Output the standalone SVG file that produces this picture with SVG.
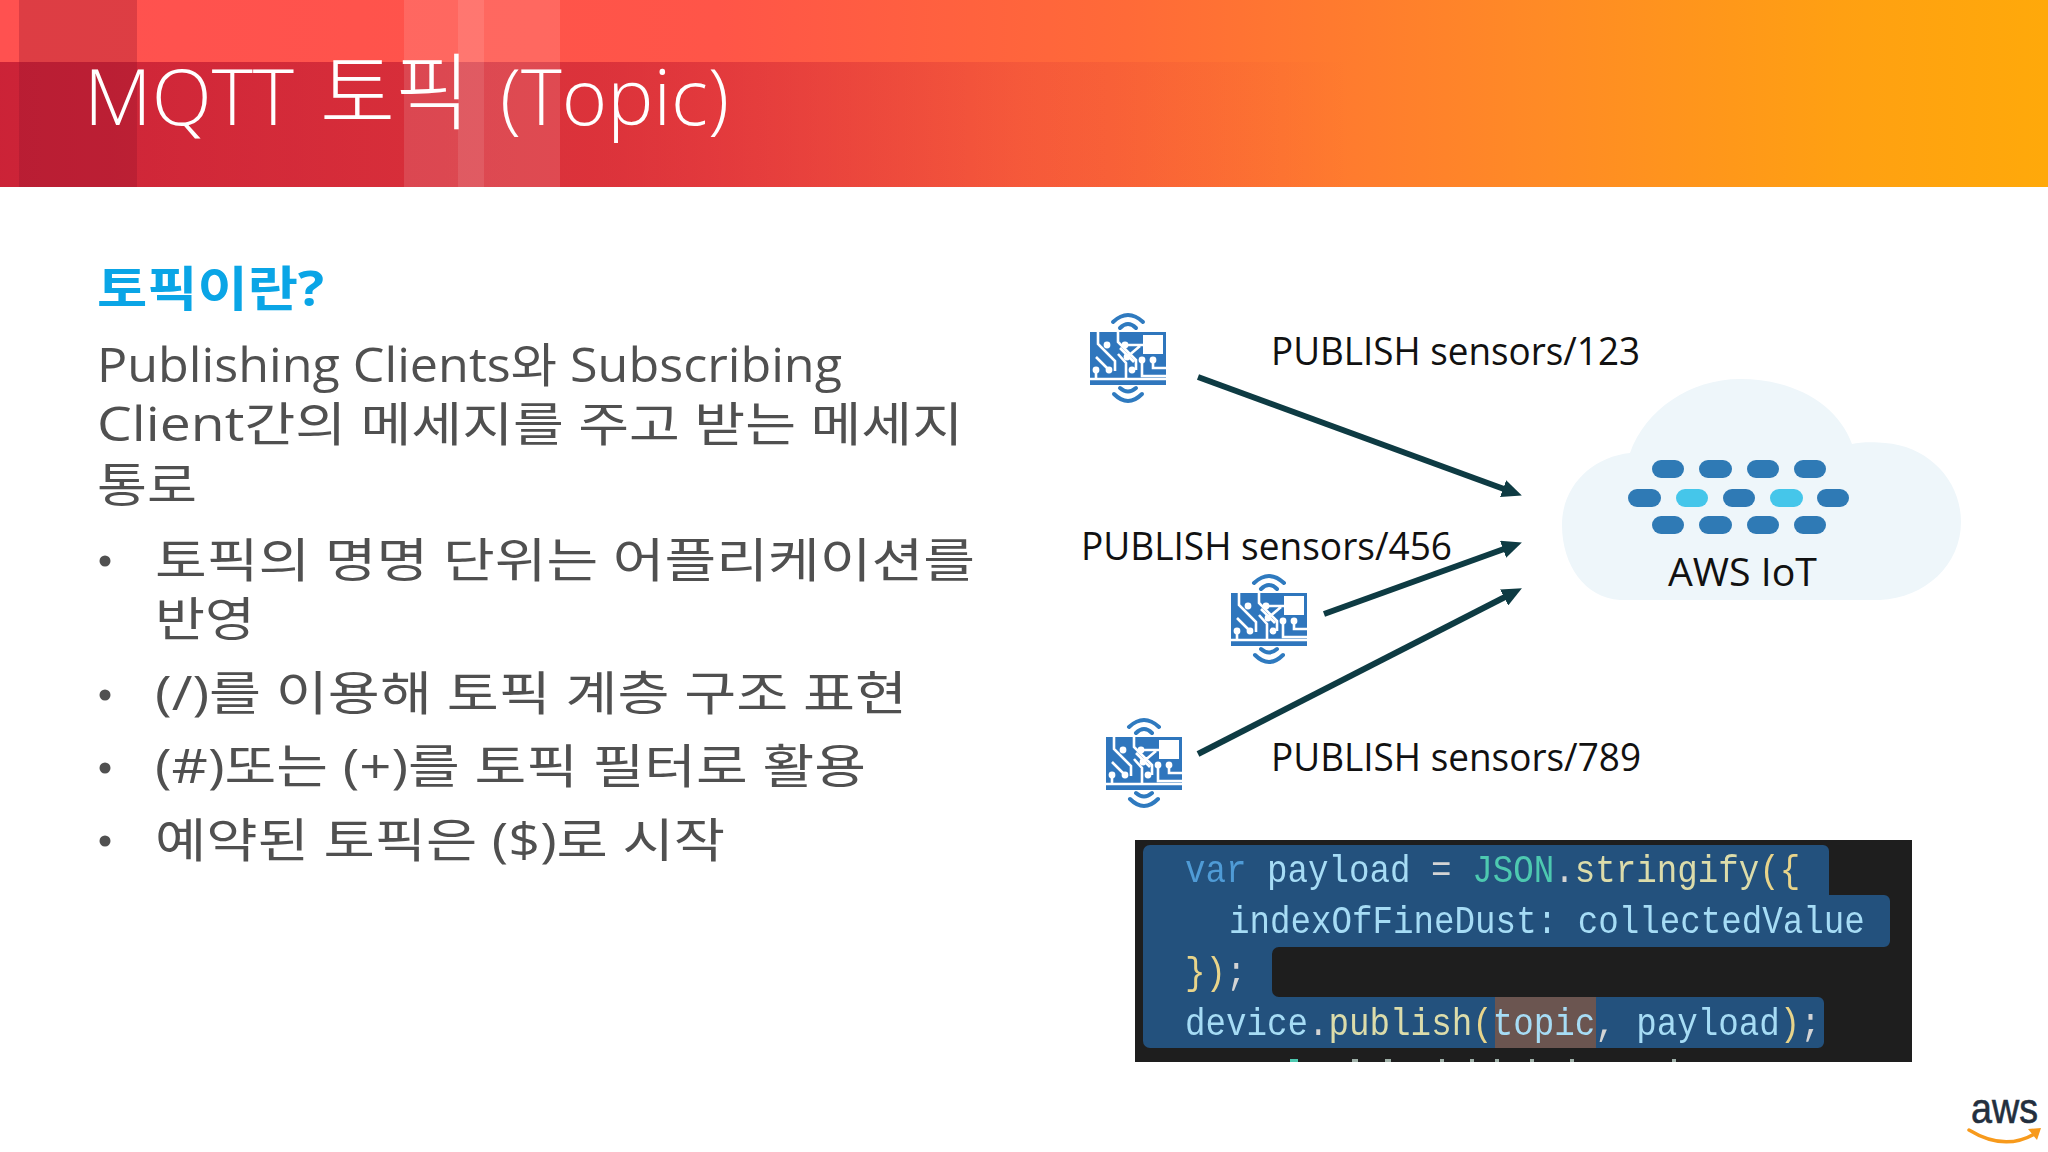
<svg xmlns="http://www.w3.org/2000/svg" xmlns:xlink="http://www.w3.org/1999/xlink" width="2048" height="1152" viewBox="0 0 2048 1152">
<defs>
<linearGradient id="hdr" x1="0" x2="1" y1="0" y2="0">
<stop offset="0" stop-color="#ff5150"/><stop offset=".35" stop-color="#ff5548"/><stop offset=".55" stop-color="#ff6a38"/><stop offset=".75" stop-color="#ff8a26"/><stop offset=".9" stop-color="#ffa012"/><stop offset="1" stop-color="#ffa90a"/>
</linearGradient>
<linearGradient id="band" x1="0" x2="1" y1="0" y2="0">
<stop offset="0" stop-color="#b00a2a" stop-opacity=".65"/><stop offset=".3" stop-color="#c0182f" stop-opacity=".55"/><stop offset=".5" stop-color="#c0182f" stop-opacity=".15"/><stop offset=".66" stop-color="#c0182f" stop-opacity="0"/>
</linearGradient>
<filter id="soft" x="-2%" y="-2%" width="104%" height="104%"><feGaussianBlur stdDeviation=".6"/></filter>
<marker id="arrow" viewBox="0 0 10 10" refX="0.5" refY="5" markerWidth="20" markerHeight="18" markerUnits="userSpaceOnUse" orient="auto" preserveAspectRatio="none"><path d="M0,0L10,5L0,10Z" fill="#0e3b43"/></marker>
<g id="chip">
<path d="M23,-10Q38,-24 53,-10M30,-4Q38,-12 46,-4M24,62Q38,76 52,62M30,56Q38,63 46,56" fill="none" stroke="#2f7abf" stroke-width="4" stroke-linecap="round"/>
<rect x="0" y="0" width="76" height="53" fill="#2f76bd"/>
<path d="M8,0V12L25,29V39M19,38L6,25M6,38V47M28,0V10L46,28V38M30,16L44,30M28,22L36,31V46M35,13H53M52,28V44H76M63,28V36H76M37,25L50,14M0,47H76" fill="none" stroke="#fff" stroke-width="2.6"/>
<rect x="53" y="3" width="20" height="19" fill="#fff"/>
<g fill="#fff"><circle cx="17" cy="13" r="3.4"/><circle cx="35" cy="13" r="3.4"/><circle cx="6" cy="38" r="3.4"/><circle cx="19" cy="38" r="3.4"/><circle cx="37" cy="25" r="3.4"/><circle cx="42" cy="38" r="3.4"/><circle cx="52" cy="28" r="3.4"/><circle cx="63" cy="28" r="3.4"/></g>
</g>
</defs>
<style>
.ui{font-family:"Open Sans","Noto Sans CJK KR",sans-serif;font-weight:300}
.body{font-size:47px;fill:#505050;font-weight:400}
.lbl{font-size:38px;fill:#111;font-weight:400}
.code{font-family:"Liberation Mono",monospace;font-size:38px}
.pill{fill:#2f7ab5}
.pl{fill:#45c6ea}
.sel{fill:#23517d}
.conn{fill:none;stroke:#0e3b43;stroke-width:6;marker-end:url(#arrow)}
</style>
<rect width="2048" height="1152" fill="#fff"/>
<g id="header">
<rect width="2048" height="187" fill="url(#hdr)"/>
<rect y="62" width="2048" height="125" fill="url(#band)"/>
<rect x="19" width="118" height="187" fill="#90102a" fill-opacity=".3"/>
<rect x="404" width="156" height="187" fill="#fff" fill-opacity=".12"/>
<rect x="458" width="26" height="187" fill="#fff" fill-opacity=".1"/>
<g class="ui" fill="#fff">
<text x="84" y="125" font-size="78" textLength="210" lengthAdjust="spacingAndGlyphs">MQTT</text>
<text x="320" y="123" font-size="84" textLength="150" lengthAdjust="spacingAndGlyphs">토픽</text>
<text x="500" y="125" font-size="78" textLength="229" lengthAdjust="spacingAndGlyphs">(Topic)</text>
</g>
</g>
<g id="content">
<text x="97" y="306" font-family="'Open Sans','Noto Sans CJK KR',sans-serif" font-weight="700" font-size="48" fill="#0aa5e6" textLength="227" lengthAdjust="spacingAndGlyphs">토픽이란?</text>
<text class="ui body" x="97" y="382" textLength="745" lengthAdjust="spacingAndGlyphs">Publishing Clients와 Subscribing</text>
<text class="ui body" x="97" y="441" textLength="866" lengthAdjust="spacingAndGlyphs">Client간의 메세지를 주고 받는 메세지</text>
<text class="ui body" x="97" y="502" textLength="100" lengthAdjust="spacingAndGlyphs">통로</text>
<g fill="#505050"><circle cx="105" cy="561" r="5.5"/><circle cx="105" cy="695" r="5.5"/><circle cx="105" cy="768" r="5.5"/><circle cx="105" cy="841" r="5.5"/></g>
<text class="ui body" x="155" y="577" textLength="820" lengthAdjust="spacingAndGlyphs">토픽의 명명 단위는 어플리케이션를</text>
<text class="ui body" x="155" y="636" textLength="100" lengthAdjust="spacingAndGlyphs">반영</text>
<text class="ui body" x="155" y="710" textLength="752" lengthAdjust="spacingAndGlyphs">(/)를 이용해 토픽 계층 구조 표현</text>
<text class="ui body" x="155" y="783" textLength="711" lengthAdjust="spacingAndGlyphs">(#)또는 (+)를 토픽 필터로 활용</text>
<text class="ui body" x="155" y="857" textLength="570" lengthAdjust="spacingAndGlyphs">예약된 토픽은 ($)로 시작</text>
</g>
<g id="device-1"><use href="#chip" x="1090" y="332"/></g>
<g id="device-2"><use href="#chip" x="1231" y="593"/></g>
<g id="device-3"><use href="#chip" x="1106" y="737"/></g>
<g id="labels">
<text class="ui lbl" x="1271" y="365" textLength="369" lengthAdjust="spacingAndGlyphs">PUBLISH sensors/123</text>
<text class="ui lbl" x="1081" y="560" textLength="371" lengthAdjust="spacingAndGlyphs">PUBLISH sensors/456</text>
<text class="ui lbl" x="1271" y="771" textLength="370" lengthAdjust="spacingAndGlyphs">PUBLISH sensors/789</text>
</g>
<g id="aws-iot">
<path d="M1620,600C1585,598 1562,565 1562,525C1562,486 1592,457 1630,453C1645,410 1690,379 1740,379C1795,379 1838,405 1852,444C1860,442 1875,442 1885,443C1928,446 1961,480 1961,522C1961,565 1925,598 1880,600Z" fill="#eef6fa"/>
<g class="pill"><rect x="1652" y="460" width="32" height="18" rx="9"/><rect x="1699" y="460" width="33" height="18" rx="9"/><rect x="1747" y="460" width="32" height="18" rx="9"/><rect x="1794" y="460" width="32" height="18" rx="9"/>
<rect x="1628" y="489" width="33" height="18" rx="9"/><rect x="1723" y="489" width="32" height="18" rx="9"/><rect x="1817" y="489" width="32" height="18" rx="9"/>
<rect x="1652" y="516" width="32" height="18" rx="9"/><rect x="1699" y="516" width="33" height="18" rx="9"/><rect x="1747" y="516" width="32" height="18" rx="9"/><rect x="1794" y="516" width="32" height="18" rx="9"/></g>
<rect class="pl" x="1676" y="489" width="32" height="18" rx="9"/><rect class="pl" x="1770" y="489" width="33" height="18" rx="9"/>
<text class="ui lbl" x="1668" y="586" textLength="149" lengthAdjust="spacingAndGlyphs">AWS IoT</text>
</g>
<g id="connectors">
<line class="conn" x1="1198" y1="377" x2="1504" y2="489"/>
<line class="conn" x1="1324" y1="614" x2="1504" y2="549"/>
<line class="conn" x1="1198" y1="754" x2="1505" y2="597"/>
</g>
<g id="code">
<rect x="1135" y="840" width="777" height="222" fill="#1e1e1e"/>
<path class="sel" d="M1150,845H1823a6,6 0 0 1 6,6V895H1884a6,6 0 0 1 6,6V941a6,6 0 0 1 -6,6H1279a7,7 0 0 0 -7,7V990a7,7 0 0 0 7,7H1818a6,6 0 0 1 6,6V1042a6,6 0 0 1 -6,6H1150a7,7 0 0 1 -7,-7V852a7,7 0 0 1 7,-7Z"/>
<rect x="1495" y="997" width="101" height="51" fill="#6b5550"/>
<g filter="url(#soft)">
<text class="code" transform="translate(1185,882) scale(.9,1)" xml:space="preserve"><tspan fill="#4f9bd6">var</tspan><tspan fill="#a6dcf5"> payload </tspan><tspan fill="#d4d4d4">= </tspan><tspan fill="#4ec9b0">JSON</tspan><tspan fill="#d4d4d4">.</tspan><tspan fill="#dcdcaa">stringify</tspan><tspan fill="#e8d48a">({</tspan></text>
<text class="code" transform="translate(1229,933) scale(.9,1)" fill="#a6dcf5">indexOfFineDust: collectedValue</text>
<text class="code" transform="translate(1185,984) scale(.9,1)" fill="#e8d48a">})<tspan fill="#d4d4d4">;</tspan></text>
<text class="code" transform="translate(1185,1035) scale(.9,1)" xml:space="preserve"><tspan fill="#a6dcf5">device</tspan><tspan fill="#d4d4d4">.</tspan><tspan fill="#dcdcaa">publish</tspan><tspan fill="#e8d48a">(</tspan><tspan fill="#a6dcf5">topic</tspan><tspan fill="#d4d4d4">, </tspan><tspan fill="#a6dcf5">payload</tspan><tspan fill="#e8d48a">)</tspan><tspan fill="#d4d4d4">;</tspan></text>
</g>
<g fill="#9fb0a8"><rect x="1290" y="1059" width="8" height="3" fill="#4ec9b0"/><rect x="1352" y="1059" width="6" height="3"/><rect x="1385" y="1059" width="6" height="3"/><rect x="1440" y="1059" width="4" height="3"/><rect x="1470" y="1059" width="4" height="3"/><rect x="1495" y="1059" width="4" height="3"/><rect x="1530" y="1059" width="4" height="3"/><rect x="1570" y="1059" width="4" height="3"/><rect x="1672" y="1059" width="4" height="3"/></g>
</g>
<g id="aws-logo">
<text x="1971" y="1123" font-family="'Liberation Sans',sans-serif" font-size="42" fill="#232f3e" stroke="#232f3e" stroke-width=".6" textLength="67" lengthAdjust="spacingAndGlyphs">aws</text>
<path d="M1969,1130Q2005,1152 2036,1133" fill="none" stroke="#f79a1c" stroke-width="3.4" stroke-linecap="round"/>
<path d="M2028,1129L2041,1128L2037,1140Z" fill="#f79a1c"/>
</g>
</svg>
